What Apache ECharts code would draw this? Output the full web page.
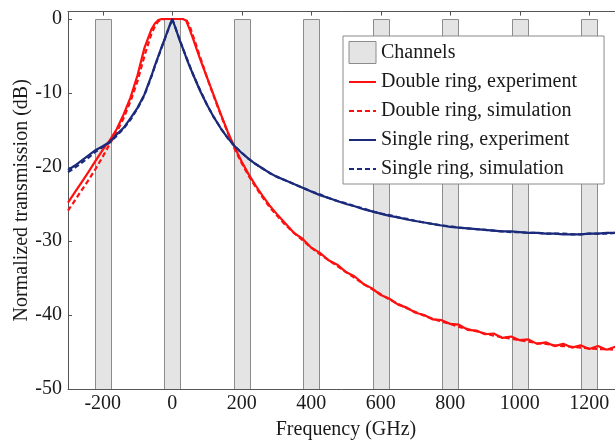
<!DOCTYPE html>
<html><head><meta charset="utf-8">
<script src="https://cdn.jsdelivr.net/npm/echarts@6/dist/echarts.min.js"></script>
<style>html,body{margin:0;padding:0;background:#fff}#c{width:615px;height:441px}</style>
</head><body><div id="c"></div>
<script>
const FREQ = [-300,-280,-260,-240,-220,-200,-180,-160,-140,-120,-100,-80,-60,
  -50,-40,-30,-20,-10,0,10,20,30,40,50,
  60,80,100,120,140,160,180,200,220,240,260,280,300,
  325,350,375,400,425,450,475,500,525,550,575,600,625,650,675,700,725,750,775,800,
  825,850,875,900,925,950,975,1000,1025,1050,1075,1100,1125,1150,1175,1200,1225,1250,1275,1300];

const DOUBLE_EXP = [-24.8,-23.4,-22.0,-20.6,-19.1,-17.7,-16.4,-14.9,-12.9,-10.6,-7.6,-3.9,-1.4,
  -0.6,-0.15,0,0,0,0,0,0,0,-0.2,-1.4,
  -2.7,-5.4,-7.9,-10.4,-12.9,-15.3,-17.4,-19.3,-21.0,-22.5,-23.9,-25.2,-26.3,
  -27.6,-28.9,-29.7,-30.9,-31.6,-32.6,-33.2,-34.2,-34.8,-35.8,-36.4,-37.3,-37.8,-38.6,-39.0,-39.7,-40.0,-40.6,-40.7,-41.2,
  -41.3,-42.0,-42.1,-42.6,-42.5,-43.1,-42.9,-43.4,-43.3,-43.9,-43.7,-44.2,-43.9,-44.4,-44.1,-44.6,-44.2,-44.7,-44.3,-44.7];

const DOUBLE_SIM = [-25.9,-24.5,-23.1,-21.7,-20.2,-18.6,-16.9,-15.3,-13.4,-11.1,-8.4,-5.0,-2.0,
  -1.0,-0.3,-0.05,0,0,0,0,0,0,-0.1,-0.9,
  -2.3,-5.1,-7.9,-10.5,-13.0,-15.4,-17.6,-19.5,-21.2,-22.7,-24.1,-25.4,-26.5,
  -27.8,-28.9,-29.9,-30.9,-31.8,-32.6,-33.4,-34.2,-35.0,-35.8,-36.5,-37.2,-37.9,-38.5,-39.1,-39.6,-40.1,-40.5,-40.9,-41.2,
  -41.6,-41.9,-42.2,-42.5,-42.8,-43.0,-43.2,-43.4,-43.6,-43.8,-43.9,-44.1,-44.2,-44.3,-44.4,-44.5,-44.6,-44.6,-44.7,-44.7];

const SINGLE_EXP = [-20.4,-19.8,-19.1,-18.4,-17.7,-17.2,-16.6,-15.6,-14.7,-13.4,-12.0,-10.2,-7.7,
  -6.3,-5.0,-3.7,-2.5,-1.2,0,-1.3,-2.7,-3.9,-5.2,-6.4,
  -7.5,-9.7,-11.6,-13.3,-14.8,-16.1,-17.2,-18.1,-18.9,-19.6,-20.2,-20.8,-21.3,
  -21.8,-22.3,-22.8,-23.3,-23.8,-24.2,-24.6,-25.0,-25.3,-25.7,-26.0,-26.3,-26.6,-26.8,-27.1,-27.3,-27.5,-27.7,-27.9,-28.1,
  -28.2,-28.3,-28.4,-28.5,-28.6,-28.7,-28.7,-28.8,-28.9,-28.9,-29.0,-29.0,-29.1,-29.1,-29.1,-29.0,-29.0,-28.9,-28.9,-28.9];

const SINGLE_SIM = [-20.7,-20.1,-19.4,-18.7,-17.9,-17.3,-16.7,-15.8,-14.8,-13.6,-12.1,-10.3,-7.8,
  -6.4,-5.1,-3.8,-2.5,-1.2,0,-1.3,-2.6,-3.9,-5.1,-6.3,
  -7.5,-9.6,-11.6,-13.3,-14.8,-16.1,-17.2,-18.1,-18.9,-19.6,-20.2,-20.8,-21.3,
  -21.8,-22.3,-22.8,-23.3,-23.7,-24.2,-24.6,-24.9,-25.3,-25.6,-26.0,-26.3,-26.5,-26.8,-27.0,-27.3,-27.5,-27.7,-27.9,-28.0,
  -28.2,-28.3,-28.4,-28.5,-28.6,-28.7,-28.8,-28.8,-28.9,-28.9,-29.0,-29.0,-29.0,-29.1,-29.1,-29.0,-29.0,-29.0,-28.9,-28.9];

const CHANNEL_CENTERS = [-200,0,200,400,600,800,1000,1200];
const CHANNEL_WIDTH = 46;
const CHANNEL_TOP = 0;
const CHANNEL_BOTTOM = -50;

const NAMES = ['Channels','Double ring, experiment','Double ring, simulation','Single ring, experiment','Single ring, simulation'];

const FONT = "'Liberation Serif','Times New Roman',serif";
const RED = '#ff1010';
const BLUE = '#1b2a7b';

function pairs(vals){ return FREQ.map((f,i)=>[f, vals[i]]); }

function lineSeries(name, vals, color, dashed){
  return {
    type:'line', name:name, data:pairs(vals), symbol:'none', smooth:false,
    lineStyle:{color:color, width:2.2, type: dashed ? [5,3] : 'solid'},
    itemStyle:{color:color}, z:3, clip:true
  };
}

function axisCommon(){
  return {
    axisLine:{onZero:false, lineStyle:{color:'#555', width:1}},
    axisTick:{inside:true, length:4, lineStyle:{color:'#555'}},
    splitLine:{show:false}
  };
}

const noSymbol = {color:'rgba(0,0,0,0)', borderWidth:0, opacity:0};

const chart = echarts.init(document.getElementById('c'), null, {renderer:'canvas'});
chart.setOption({
  animation:false,
  backgroundColor:'#fff',
  grid:{left:68, right:-9, top:11.6, bottom:52, outerBoundsMode:'none', containLabel:false},
  xAxis:[
    Object.assign({type:'value', min:-300, max:1300, splitNumber:8, position:'bottom',
      axisLabel:{showMinLabel:false, showMaxLabel:false, color:'#1a1a1a', fontFamily:FONT, fontSize:20, margin:5,
        formatter:function(v){ return String(v); }},
      name:'Frequency (GHz)', nameLocation:'middle', nameGap:31, nameMoveOverlap:false,
      nameTextStyle:{color:'#1a1a1a', fontFamily:FONT, fontSize:20}}, axisCommon()),
    Object.assign({type:'value', min:-300, max:1300, splitNumber:8, position:'top',
      axisLabel:{show:false}}, axisCommon())
  ],
  yAxis:[
    Object.assign({type:'value', min:-50, max:1, interval:10,
      axisLabel:{showMaxLabel:false, color:'#1a1a1a', fontFamily:FONT, fontSize:20, margin:6,
        formatter:function(v){ return String(v); }},
      name:'Normalized transmission (dB)', nameLocation:'middle', nameGap:36, nameMoveOverlap:false,
      nameTextStyle:{color:'#1a1a1a', fontFamily:FONT, fontSize:20}}, axisCommon())
  ],
  legend:{
    orient:'vertical', left:343, top:36, padding:[5,27,4,5],
    itemWidth:27, itemHeight:22, itemGap:7,
    backgroundColor:'#fff', borderColor:'#8a8a8a', borderWidth:1,
    textStyle:{fontFamily:FONT, fontSize:20, color:'#1a1a1a', lineHeight:22},
    data:[
      {name:NAMES[0], icon:'rect', itemStyle:{color:'#e4e4e4', borderColor:'#8c8c8c', borderWidth:1}},
      {name:NAMES[1], itemStyle:noSymbol},
      {name:NAMES[2], itemStyle:noSymbol},
      {name:NAMES[3], itemStyle:noSymbol},
      {name:NAMES[4], itemStyle:noSymbol}
    ]
  },
  series:[
    {
      type:'custom', name:NAMES[0], z:1, clip:true,
      data:CHANNEL_CENTERS.map(c=>[c, CHANNEL_BOTTOM]),
      encode:{x:0, y:1},
      itemStyle:{color:'#e4e4e4', borderColor:'#8c8c8c', borderWidth:1},
      renderItem:function(params, api){
        const c = api.value(0);
        const p1 = api.coord([c - CHANNEL_WIDTH/2, CHANNEL_TOP]);
        const p2 = api.coord([c + CHANNEL_WIDTH/2, api.value(1)]);
        return {type:'rect',
          shape:{x:Math.round(p1[0])+0.5, y:Math.round(p1[1])+0.5, width:Math.round(p2[0]-p1[0]), height:Math.round(p2[1]-p1[1])},
          style:{fill:'#e4e4e4', stroke:'#8c8c8c', lineWidth:1}};
      }
    },
    lineSeries(NAMES[1], DOUBLE_EXP, RED, false),
    lineSeries(NAMES[2], DOUBLE_SIM, RED, true),
    lineSeries(NAMES[3], SINGLE_EXP, BLUE, false),
    lineSeries(NAMES[4], SINGLE_SIM, BLUE, true)
  ]
});
</script></body></html>
